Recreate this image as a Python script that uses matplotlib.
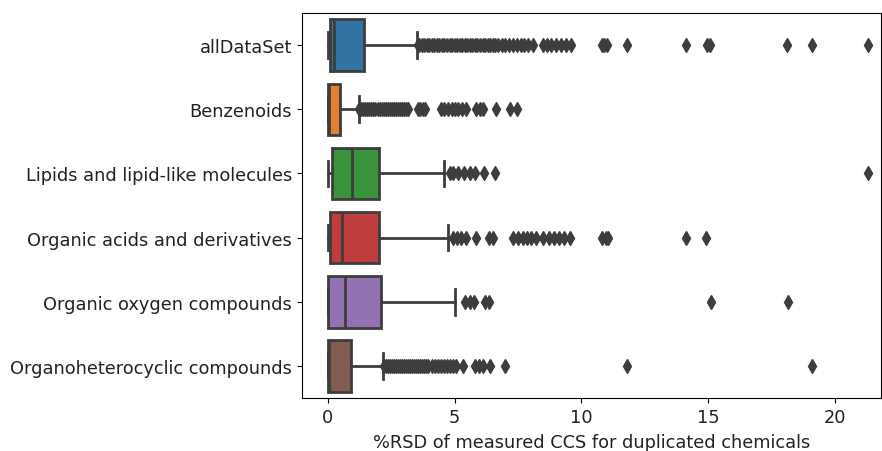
import colorsys
import matplotlib
matplotlib.use("Agg")
import matplotlib.pyplot as plt
import matplotlib.colors as mcolors

# category names, top to bottom
categories = ["allDataSet", "Benzenoids", "Lipids and lipid-like molecules",
              "Organic acids and derivatives", "Organic oxygen compounds",
              "Organoheterocyclic compounds"]

# box statistics (%RSD)
q1 = [0.08, 0.0, 0.16, 0.08, 0.0, 0.0]
med = [0.24, 0.05, 0.97, 0.55, 0.67, 0.04]
q3 = [1.42, 0.47, 2.0, 2.0, 2.1, 0.9]
whislo = [0.0, 0.0, 0.0, 0.0, 0.0, 0.0]
whishi = [3.5, 1.22, 4.6, 4.73, 5.0, 2.17]

# outliers
fliers_all = [3.55, 3.6, 3.7, 3.8, 3.9, 4.0, 4.1, 4.2, 4.3, 4.4, 4.5, 4.6, 4.7,
              4.8, 4.9, 5.0, 5.1, 5.2, 5.3, 5.4, 5.5, 5.6, 5.7, 5.8, 5.9, 6.0,
              6.1, 6.2, 6.3, 6.4, 6.5, 6.6, 6.7, 6.85, 7.0, 7.15, 7.3, 7.45,
              7.6, 7.75, 7.9, 8.1, 8.5, 8.65, 8.8, 9.0, 9.2, 9.4, 9.6,
              10.8, 10.9, 11.0, 11.8, 14.1, 14.95, 15.05, 18.1, 19.1, 21.3]
fliers_benz = [1.25, 1.32, 1.4, 1.48, 1.56, 1.64, 1.72, 1.8, 1.88, 1.96, 2.04,
               2.12, 2.2, 2.28, 2.36, 2.44, 2.52, 2.6, 2.68, 2.76, 2.84, 2.92,
               3.0, 3.08, 3.16, 3.55, 3.65, 3.75, 3.85, 4.45, 4.6, 4.75, 4.9,
               5.0, 5.15, 5.3, 5.45, 5.85, 6.0, 6.1, 6.65, 7.2, 7.45]
fliers_lipid = [4.8, 4.95, 5.15, 5.35, 5.6, 5.8, 6.15, 6.6, 21.3]
fliers_acid = [4.95, 5.1, 5.25, 5.45, 5.85, 6.35, 6.5, 7.3, 7.5, 7.7, 7.85,
               8.0, 8.2, 8.5, 8.7, 8.9, 9.1, 9.3, 9.55, 10.8, 10.95, 11.05,
               14.1, 14.9]
fliers_oxy = [5.4, 5.6, 5.75, 6.2, 6.35, 15.1, 18.15]
fliers_hetero = [2.2, 2.28, 2.36, 2.44, 2.52, 2.6, 2.68, 2.76, 2.84, 2.92, 3.0,
                 3.08, 3.16, 3.24, 3.32, 3.4, 3.48, 3.56, 3.64, 3.72, 3.8,
                 3.88, 3.96, 4.1, 4.22, 4.34, 4.46, 4.58, 4.7, 4.82, 4.94,
                 5.06, 5.33, 5.8, 5.95, 6.1, 6.4, 7.0, 11.8, 19.1]
fliers = [fliers_all, fliers_benz, fliers_lipid, fliers_acid, fliers_oxy, fliers_hetero]

base = ["#1f77b4", "#ff7f0e", "#2ca02c", "#d62728", "#9467bd", "#8c564b"]


def desat(c, p=0.75):
    h, l, s = colorsys.rgb_to_hls(*mcolors.to_rgb(c))
    return colorsys.hls_to_rgb(h, l, s * p)


colors = [desat(c) for c in base]
lum = min(colorsys.rgb_to_hls(*c)[1] for c in colors) * 0.6
gray = (lum, lum, lum)

stats = []
for i, name in enumerate(categories):
    stats.append(dict(label=name, q1=q1[i], med=med[i], q3=q3[i],
                      whislo=whislo[i], whishi=whishi[i], fliers=fliers[i]))

fig = plt.figure(figsize=(8.82, 4.52), dpi=100)
ax = fig.add_axes([0.342, 0.117, 0.657, 0.852])

lw = 2.0
bp = ax.bxp(stats, positions=range(len(categories)), widths=0.8,
            orientation="horizontal", patch_artist=True,
            boxprops=dict(linewidth=lw, edgecolor=gray),
            medianprops=dict(color=gray, linewidth=lw),
            whiskerprops=dict(color=gray, linewidth=lw),
            capprops=dict(color=gray, linewidth=lw),
            flierprops=dict(marker="d", markersize=7, markerfacecolor=gray,
                            markeredgecolor=gray, linestyle="none"))
for patch, c in zip(bp["boxes"], colors):
    patch.set_facecolor(c)

ax.set_ylim(5.5, -0.5)
ax.set_xlim(-1.03, 21.81)
ax.set_xticks([0, 5, 10, 15, 20])
ax.set_yticks(range(len(categories)))
ax.set_yticklabels(categories)
ax.tick_params(labelsize=12.8, labelcolor="#222222")
ax.set_xlabel("%RSD of measured CCS for duplicated chemicals", fontsize=12.8,
              color="#222222", labelpad=5)

fig.savefig("out.png", dpi=100)
